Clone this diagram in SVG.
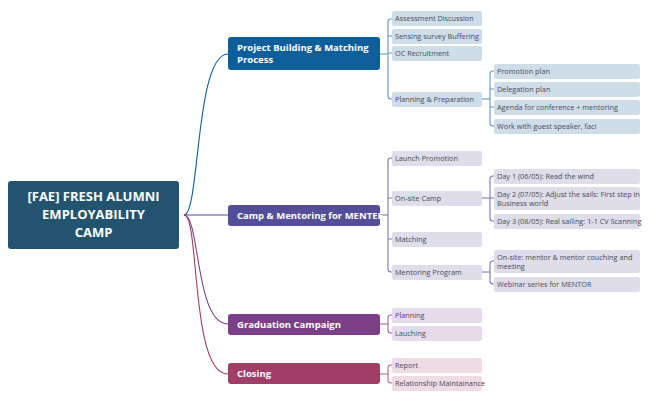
<svg xmlns="http://www.w3.org/2000/svg" width="648" height="401" viewBox="0 0 648 401">
<style>
text{font-family:"Open Sans","Liberation Sans",sans-serif}
.r{font-size:13px;font-weight:bold;fill:#fff;text-anchor:middle}
.b{font-size:9.5px;font-weight:bold;fill:#fff}
.s{font-size:7.3px;fill:#4a4a5a}
.c path{fill:none;stroke-width:1.1}
</style>
<rect width="648" height="401" fill="#fff"/>
<g class="c" id="connectors">
<path d="M184 215 C200 215,195 54,228 54" stroke="#0e5e9a"/>
<path d="M184 215 H228" stroke="#544d98"/>
<path d="M184 215 C200 215,195 324,228 324" stroke="#7a3f84"/>
<path d="M184 215 C200 215,190 374,228 374" stroke="#a13e68"/>
<g stroke="#6a96c0">
<path d="M380 54 H388"/>
<path d="M392 19 H391 Q388 19 388 22 V96 Q388 99 391 99 H392"/>
<path d="M388 36 H392 M388 53 H392"/>
<path d="M482 99 H490"/>
<path d="M494 71 H493 Q490 71 490 74 V123 Q490 126 493 126 H494"/>
<path d="M490 89 H494 M490 107 H494"/>
</g>
<g stroke="#7c78b0">
<path d="M380 215 H388"/>
<path d="M392 158 H391 Q388 158 388 161 V269 Q388 272 391 272 H392"/>
<path d="M388 198 H392 M388 239 H392"/>
<path d="M482 198 H490"/>
<path d="M494 176 H493 Q490 176 490 179 V218 Q490 221 493 221 H494"/>
<path d="M490 198 H494"/>
<path d="M482 272 H490"/>
<path d="M494 261 H493 Q490 261 490 264 V281 Q490 284 493 284 H494"/>
</g>
<g stroke="#9b6aa4">
<path d="M380 324 H388"/>
<path d="M392 315 H391 Q388 315 388 318 V330 Q388 333 391 333 H392"/>
</g>
<g stroke="#b86a8c">
<path d="M380 374 H388"/>
<path d="M392 365 H391 Q388 365 388 368 V380 Q388 383 391 383 H392"/>
</g>
</g>
<g id="root"><rect x="8" y="181" width="171" height="68" rx="3" fill="#22546f"/>
<text class="r" x="93.5" y="201">[FAE] FRESH ALUMNI</text><text class="r" x="93.5" y="219">EMPLOYABILITY</text><text class="r" x="93.5" y="237">CAMP</text></g>
<g id="pb"><rect x="228" y="37" width="152" height="33" rx="3" fill="#0e5e9a"/><text class="b" x="237" y="51">Project Building &amp; Matching</text><text class="b" x="237" y="63">Process</text></g>
<g id="camp"><rect x="228" y="205" width="152" height="21" rx="3" fill="#544d98"/><text class="b" x="237" y="219">Camp &amp; Mentoring for MENTEE</text></g>
<g id="grad"><rect x="228" y="314" width="152" height="21" rx="3" fill="#7a3f84"/><text class="b" x="237" y="328">Graduation Campaign</text></g>
<g id="closing"><rect x="228" y="363" width="152" height="21" rx="3" fill="#a13e68"/><text class="b" x="237" y="377">Closing</text></g>
<g fill="#cfdde9">
<g id="n1"><rect x="392" y="11" width="90" height="15" rx="2"/><text class="s" x="395" y="21">Assessment Discussion</text></g>
<g id="n2"><rect x="392" y="29" width="90" height="15" rx="2"/><text class="s" x="395" y="39">Sensing survey Buffering</text></g>
<g id="n3"><rect x="392" y="46" width="90" height="15" rx="2"/><text class="s" x="395" y="56">OC Recruitment</text></g>
<g id="n4"><rect x="392" y="92" width="90" height="15" rx="2"/><text class="s" x="395" y="102">Planning &amp; Preparation</text></g>
<g id="n5"><rect x="494" y="64" width="146" height="15" rx="2"/><text class="s" x="497" y="74">Promotion plan</text></g>
<g id="n6"><rect x="494" y="82" width="146" height="15" rx="2"/><text class="s" x="497" y="92">Delegation plan</text></g>
<g id="n7"><rect x="494" y="100" width="146" height="15" rx="2"/><text class="s" x="497" y="110">Agenda for conference + mentoring</text></g>
<g id="n8"><rect x="494" y="119" width="146" height="15" rx="2"/><text class="s" x="497" y="129">Work with guest speaker, faci</text></g>
</g>
<g fill="#dedde9">
<g id="m1"><rect x="392" y="151" width="90" height="15" rx="2"/><text class="s" x="395" y="161">Launch Promotion</text></g>
<g id="m2"><rect x="392" y="191" width="90" height="15" rx="2"/><text class="s" x="395" y="201">On-site Camp</text></g>
<g id="m3"><rect x="392" y="232" width="90" height="15" rx="2"/><text class="s" x="395" y="242">Matching</text></g>
<g id="m4"><rect x="392" y="265" width="90" height="15" rx="2"/><text class="s" x="395" y="275">Mentoring Program</text></g>
<g id="m5"><rect x="494" y="169" width="146" height="15" rx="2"/><text class="s" x="497" y="179">Day 1 (06/05): Read the wind</text></g>
<g id="m6"><rect x="494" y="187" width="146" height="23" rx="2"/><text class="s" x="497" y="197">Day 2 (07/05): Adjust the sails: First step in</text><text class="s" x="497" y="206">Business world</text></g>
<g id="m7"><rect x="494" y="214" width="146" height="15" rx="2"/><text class="s" x="497" y="224">Day 3 (08/05): Real sailing: 1-1 CV Scanning</text></g>
<g id="m8"><rect x="494" y="250" width="146" height="23" rx="2"/><text class="s" x="497" y="260">On-site: mentor &amp; mentor couching and</text><text class="s" x="497" y="269">meeting</text></g>
<g id="m9"><rect x="494" y="277" width="146" height="15" rx="2"/><text class="s" x="497" y="287">Webinar series for MENTOR</text></g>
</g>
<g fill="#e6dbea">
<g id="g1"><rect x="392" y="308" width="90" height="15" rx="2"/><text class="s" x="395" y="318">Planning</text></g>
<g id="g2"><rect x="392" y="326" width="90" height="15" rx="2"/><text class="s" x="395" y="336">Lauching</text></g>
</g>
<g fill="#efdbe3">
<g id="c1"><rect x="392" y="358" width="90" height="15" rx="2"/><text class="s" x="395" y="368">Report</text></g>
<g id="c2"><rect x="392" y="376" width="90" height="15" rx="2"/><text class="s" x="395" y="386">Relationship Maintainance</text></g>
</g>
</svg>
